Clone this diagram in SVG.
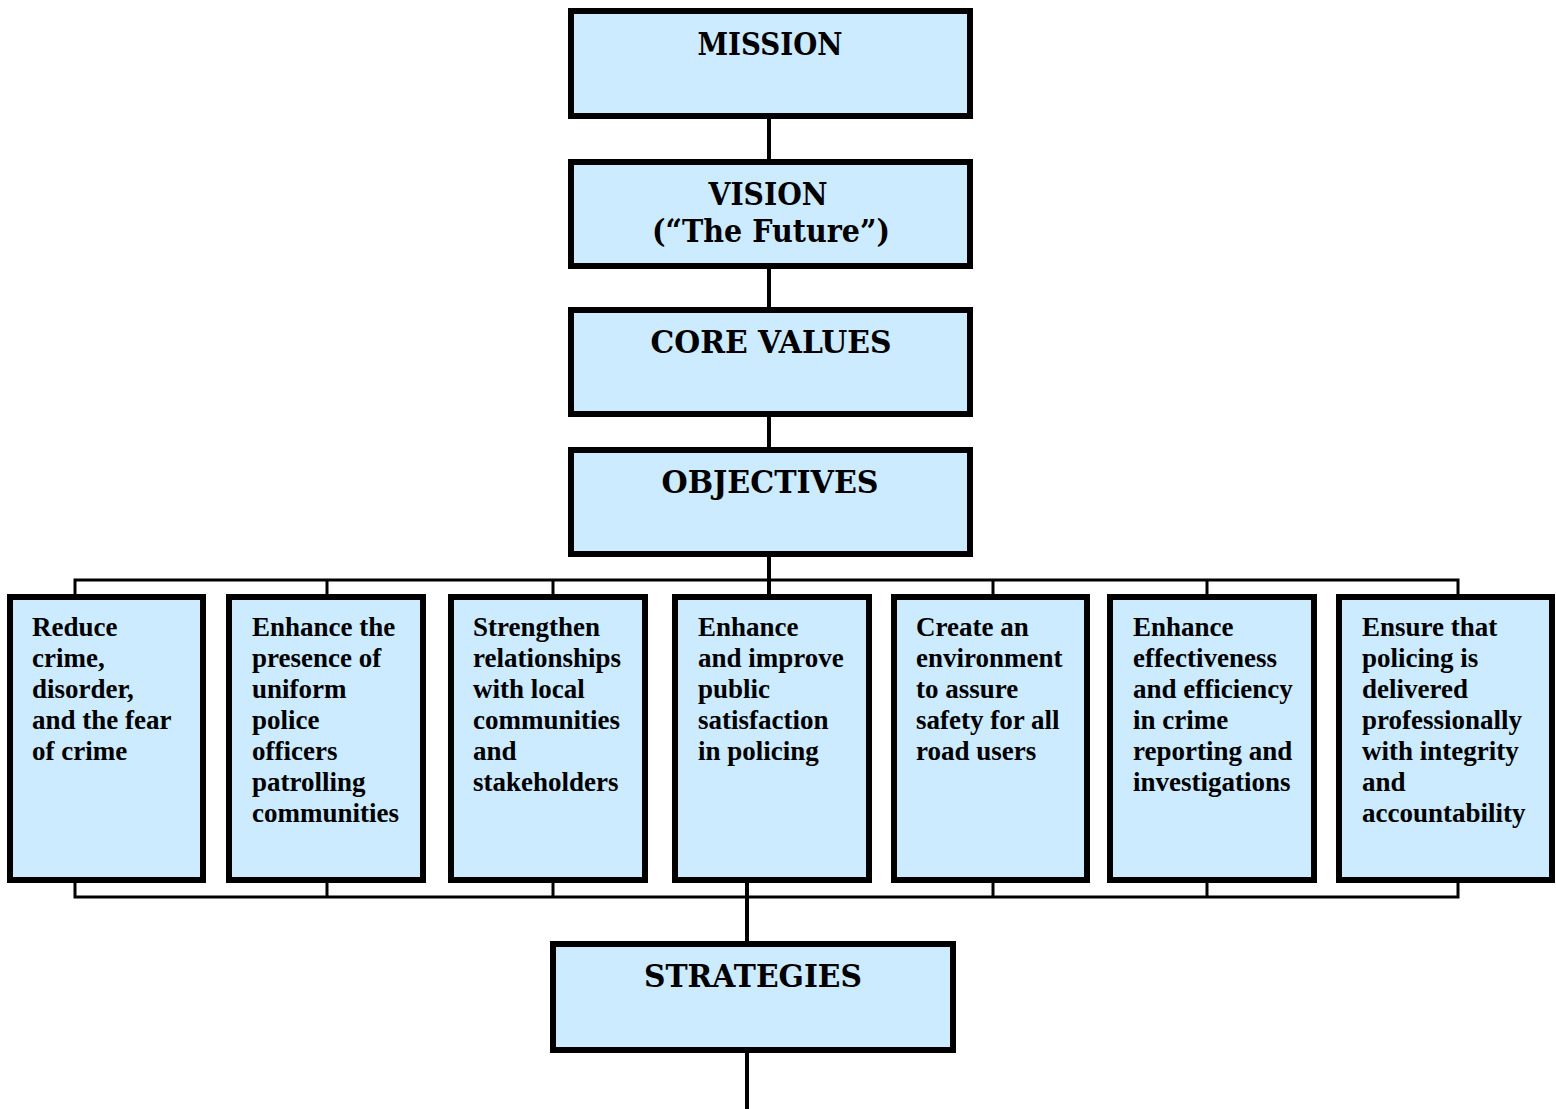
<svg xmlns="http://www.w3.org/2000/svg" width="1556" height="1109" viewBox="0 0 1556 1109">
<style>
.box{fill:#CCEBFF;stroke:#000;stroke-width:6}
.hd{font-family:"DejaVu Serif",serif;font-weight:bold;font-size:31px;fill:#000;text-anchor:middle}
.ob{font-family:"Liberation Serif","Times New Roman",serif;font-weight:bold;font-size:27px;fill:#000}
.ln{stroke:#000;fill:none}
</style>
<rect width="1556" height="1109" fill="#fff"/>
<g id="connectors">
<line class="ln" x1="769" y1="118" x2="769" y2="160" stroke-width="4"/>
<line class="ln" x1="769" y1="268" x2="769" y2="307" stroke-width="4"/>
<line class="ln" x1="769" y1="416" x2="769" y2="448" stroke-width="4"/>
<line class="ln" x1="769" y1="556" x2="769" y2="595" stroke-width="4"/>
<polyline class="ln" stroke-width="3" points="75,595 75,580 1458,580 1458,595"/>
<g stroke-width="3">
<line class="ln" x1="327" y1="580" x2="327" y2="595"/>
<line class="ln" x1="553" y1="580" x2="553" y2="595"/>
<line class="ln" x1="993" y1="580" x2="993" y2="595"/>
<line class="ln" x1="1207" y1="580" x2="1207" y2="595"/>
</g>
<polyline class="ln" stroke-width="3" points="75,882 75,897 1458,897 1458,882"/>
<g stroke-width="3">
<line class="ln" x1="327" y1="882" x2="327" y2="897"/>
<line class="ln" x1="553" y1="882" x2="553" y2="897"/>
<line class="ln" x1="993" y1="882" x2="993" y2="897"/>
<line class="ln" x1="1207" y1="882" x2="1207" y2="897"/>
</g>
<line class="ln" x1="747" y1="882" x2="747" y2="943" stroke-width="4"/>
<line class="ln" x1="747" y1="1052" x2="747" y2="1109" stroke-width="4"/>
</g>
<g id="mission">
<rect class="box" x="571" y="11" width="399" height="105"/>
<text class="hd" x="770" y="55" textLength="145" lengthAdjust="spacingAndGlyphs">MISSION</text>
</g>
<g id="vision">
<rect class="box" x="571" y="162" width="399" height="104"/>
<text class="hd" x="768" y="205" textLength="119" lengthAdjust="spacingAndGlyphs">VISION</text>
<text class="hd" x="771" y="242" textLength="238" lengthAdjust="spacingAndGlyphs">(“The Future”)</text>
</g>
<g id="core-values">
<rect class="box" x="571" y="310" width="399" height="104"/>
<text class="hd" x="771" y="353" textLength="241" lengthAdjust="spacingAndGlyphs">CORE VALUES</text>
</g>
<g id="objectives">
<rect class="box" x="571" y="450" width="399" height="104"/>
<text class="hd" x="770" y="493" textLength="217" lengthAdjust="spacingAndGlyphs">OBJECTIVES</text>
</g>
<g id="obj1">
<rect class="box" x="10" y="597" width="193" height="283"/>
<text class="ob" x="32" y="636">Reduce<tspan x="32" y="667">crime,</tspan><tspan x="32" y="698">disorder,</tspan><tspan x="32" y="729">and the fear</tspan><tspan x="32" y="760">of crime</tspan></text>
</g>
<g id="obj2">
<rect class="box" x="229" y="597" width="194" height="283"/>
<text class="ob" x="252" y="636">Enhance the<tspan x="252" y="667">presence of</tspan><tspan x="252" y="698">uniform</tspan><tspan x="252" y="729">police</tspan><tspan x="252" y="760">officers</tspan><tspan x="252" y="791">patrolling</tspan><tspan x="252" y="822">communities</tspan></text>
</g>
<g id="obj3">
<rect class="box" x="451" y="597" width="194" height="283"/>
<text class="ob" x="473" y="636">Strengthen<tspan x="473" y="667">relationships</tspan><tspan x="473" y="698">with local</tspan><tspan x="473" y="729">communities</tspan><tspan x="473" y="760">and</tspan><tspan x="473" y="791">stakeholders</tspan></text>
</g>
<g id="obj4">
<rect class="box" x="675" y="597" width="194" height="283"/>
<text class="ob" x="698" y="636">Enhance<tspan x="698" y="667">and improve</tspan><tspan x="698" y="698">public</tspan><tspan x="698" y="729">satisfaction</tspan><tspan x="698" y="760">in policing</tspan></text>
</g>
<g id="obj5">
<rect class="box" x="894" y="597" width="193" height="283"/>
<text class="ob" x="916" y="636">Create an<tspan x="916" y="667">environment</tspan><tspan x="916" y="698">to assure</tspan><tspan x="916" y="729">safety for all</tspan><tspan x="916" y="760">road users</tspan></text>
</g>
<g id="obj6">
<rect class="box" x="1110" y="597" width="204" height="283"/>
<text class="ob" x="1133" y="636">Enhance<tspan x="1133" y="667">effectiveness</tspan><tspan x="1133" y="698">and efficiency</tspan><tspan x="1133" y="729">in crime</tspan><tspan x="1133" y="760">reporting and</tspan><tspan x="1133" y="791">investigations</tspan></text>
</g>
<g id="obj7">
<rect class="box" x="1339" y="597" width="213" height="283"/>
<text class="ob" x="1362" y="636">Ensure that<tspan x="1362" y="667">policing is</tspan><tspan x="1362" y="698">delivered</tspan><tspan x="1362" y="729">professionally</tspan><tspan x="1362" y="760">with integrity</tspan><tspan x="1362" y="791">and</tspan><tspan x="1362" y="822">accountability</tspan></text>
</g>
<g id="strategies">
<rect class="box" x="553" y="944" width="400" height="106"/>
<text class="hd" x="753" y="987" textLength="218" lengthAdjust="spacingAndGlyphs">STRATEGIES</text>
</g>
</svg>
